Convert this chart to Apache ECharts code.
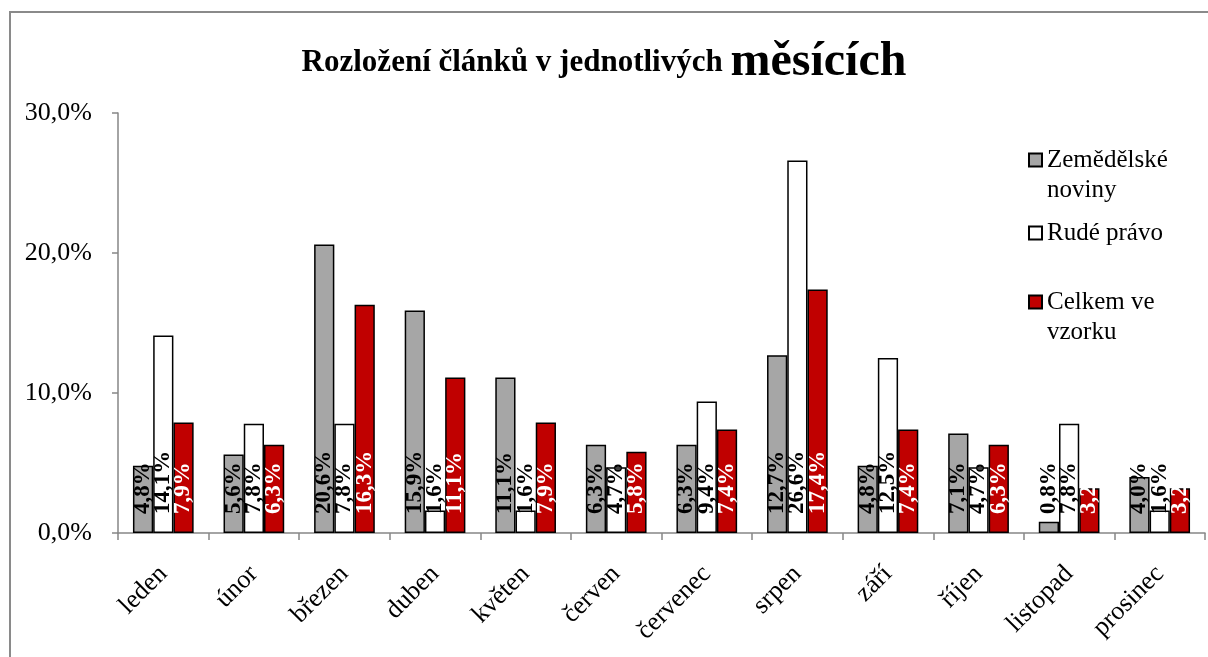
<!DOCTYPE html>
<html>
<head>
<meta charset="utf-8">
<title>Rozložení článků</title>
<script src="https://cdn.jsdelivr.net/npm/echarts@6/dist/echarts.min.js"></script>
<style>
  html, body { margin: 0; padding: 0; background: #fff; }
  #chart { width: 1208px; height: 657px; }
</style>
</head>
<body>
<div id="chart"></div>
<script>
// mesice a hodnoty (v %)
var months = ['leden', 'únor', 'březen', 'duben', 'květen', 'červen',
	'červenec', 'srpen', 'září', 'říjen', 'listopad', 'prosinec'];
var zemedelske = [4.8, 5.6, 20.6, 15.9, 11.1, 6.3, 6.3, 12.7, 4.8, 7.1, 0.8, 4.0];
var rudePravo = [14.1, 7.8, 7.8, 1.6, 1.6, 4.7, 9.4, 26.6, 12.5, 4.7, 7.8, 1.6];
var celkem = [7.9, 6.3, 16.3, 11.1, 7.9, 5.8, 7.4, 17.4, 7.4, 6.3, 3.2, 3.2];
var yTicks = [0, 10, 20, 30];

var serif = '"Liberation Serif", "Times New Roman", serif';

function pct(v) {
	return v.toFixed(1).replace('.', ',') + '%';
}

function barLabel(color) {
	return {
		show: true,
		position: 'insideBottom',
		distance: 19,
		rotate: 90,
		align: 'left',
		verticalAlign: 'middle',
		fontFamily: serif,
		fontSize: 23,
		fontWeight: 'bold',
		color: color,
		formatter: function(p) { return pct(p.value); }
	};
}

function makeSeries(name, data, fill, labelColor) {
	return {
		name: name,
		type: 'bar',
		data: data,
		barGap: '0%',
		barCategoryGap: '33%',
		itemStyle: { color: fill, borderColor: '#000', borderWidth: 1.5 },
		label: barLabel(labelColor)
	};
}

// dvouradkove polozky: prazdny radek nahore, aby ikona stala u prvniho radku
function makeLegend(name, text, iconCenter, twoLines) {
	return {
		data: [{ name: name, icon: 'rect' }],
		orient: 'vertical',
		left: 1028,
		top: twoLines ? iconCenter - 45 : iconCenter - 15,
		padding: 0,
		itemWidth: 13,
		itemHeight: 13,
		selectedMode: false,
		formatter: function() { return twoLines ? ' \n' + text : text; },
		textStyle: { fontFamily: serif, fontSize: 25, color: '#000', lineHeight: 30 }
	};
}

var myChart = echarts.init(document.getElementById('chart'));

var option = {
	animation: false,
	backgroundColor: '#fff',
	title: {
		text: '{a|Rozložení článků v jednotlivých }{b|měsících}',
		left: 'center',
		top: 34,
		textStyle: {
			rich: {
				a: { fontFamily: serif, fontSize: 31, fontWeight: 'bold', color: '#000' },
				b: { fontFamily: serif, fontSize: 48, fontWeight: 'bold', color: '#000' }
			}
		}
	},
	legend: [
		makeLegend('Zemědělské noviny', 'Zemědělské\nnoviny', 160, true),
		makeLegend('Rudé právo', 'Rudé právo', 233, false),
		makeLegend('Celkem ve vzorku', 'Celkem ve\nvzorku', 302, true)
	],
	grid: { left: 118, right: 3, top: 113, bottom: 124, containLabel: false },
	xAxis: {
		type: 'category',
		data: months,
		axisLine: { lineStyle: { color: '#868686', width: 1.5 } },
		axisTick: { show: true, length: 7, lineStyle: { color: '#868686', width: 1.5 } },
		axisLabel: {
			interval: 0,
			rotate: 45,
			margin: 37,
			fontFamily: serif,
			fontSize: 26,
			color: '#000'
		}
	},
	yAxis: {
		type: 'value',
		min: yTicks[0],
		max: yTicks[yTicks.length - 1],
		interval: 10,
		splitLine: { show: false },
		axisLine: { show: true, lineStyle: { color: '#868686', width: 1.5 } },
		axisTick: { show: true, length: 6, lineStyle: { color: '#868686', width: 1.5 } },
		axisLabel: {
			margin: 26,
			fontFamily: serif,
			fontSize: 26,
			color: '#000',
			formatter: function(v) { return pct(v); }
		}
	},
	graphic: [{
		type: 'rect',
		silent: true,
		z: -1,
		shape: { x: 10, y: 12, width: 1300, height: 700 },
		style: { fill: 'none', stroke: '#8a8a8a', lineWidth: 2 }
	}],
	series: [
		makeSeries('Zemědělské noviny', zemedelske, '#a6a6a6', '#000'),
		makeSeries('Rudé právo', rudePravo, '#ffffff', '#000'),
		makeSeries('Celkem ve vzorku', celkem, '#c00000', '#fff')
	]
};

myChart.setOption(option);

window.addEventListener('resize', function() {
	myChart.resize();
});
</script>
</body>
</html>
